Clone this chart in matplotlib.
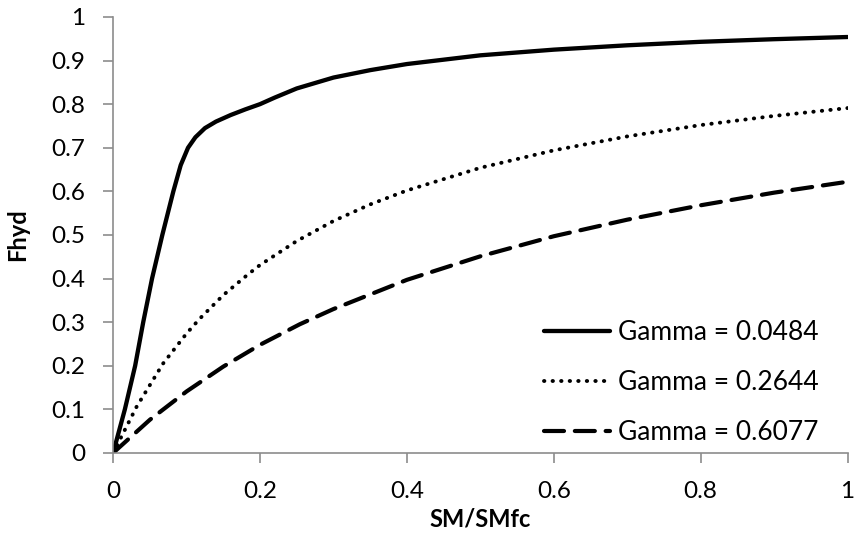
import matplotlib
matplotlib.use("Agg")
import matplotlib.pyplot as plt

# values
sm_solid = [0, 0.016, 0.03, 0.041, 0.053, 0.067, 0.082, 0.092, 0.102, 0.112, 0.125,
            0.14, 0.16, 0.18, 0.2, 0.22, 0.25, 0.3, 0.35, 0.4, 0.5, 0.6, 0.7, 0.8, 0.9, 1.0]
fhyd_solid = [0, 0.1, 0.2, 0.3, 0.4, 0.5, 0.6, 0.66, 0.7, 0.724, 0.745,
              0.76, 0.775, 0.788, 0.8, 0.815, 0.836, 0.861, 0.878, 0.892, 0.912, 0.925,
              0.935, 0.943, 0.949, 0.954]

sm_dot = [0, 0.032, 0.068, 0.1, 0.118, 0.15, 0.184, 0.2, 0.25, 0.3, 0.35, 0.4,
          0.5, 0.6, 0.7, 0.8, 0.9, 1.0]
fhyd_dot = [0, 0.106, 0.205, 0.274, 0.308, 0.362, 0.41, 0.431, 0.486, 0.532, 0.57, 0.602,
            0.654, 0.694, 0.726, 0.752, 0.773, 0.791]

sm_dash = [0, 0.05, 0.1, 0.15, 0.2, 0.254, 0.3, 0.4, 0.5, 0.6, 0.7, 0.8, 0.9, 1.0]
fhyd_dash = [0, 0.076, 0.141, 0.198, 0.248, 0.295, 0.33, 0.397, 0.451, 0.497,
             0.535, 0.568, 0.597, 0.622]

labels = ["Gamma = 0.0484", "Gamma = 0.2644", "Gamma = 0.6077"]
x_ticks = [0, 0.2, 0.4, 0.6, 0.8, 1]
y_ticks = [0, 0.1, 0.2, 0.3, 0.4, 0.5, 0.6, 0.7, 0.8, 0.9, 1]

plt.rcParams["font.family"] = ["Lato", "DejaVu Sans"]

fig = plt.figure(figsize=(8.57, 5.47), dpi=100)
ax = fig.add_axes([0.132, 0.172, 0.857, 0.797])

ax.plot(sm_solid, fhyd_solid, color="black", lw=3.1, solid_capstyle="round",
        solid_joinstyle="round", label=labels[0])
ax.plot(sm_dot, fhyd_dot, color="black", lw=2.8, linestyle=(0, (0.1, 2.1)),
        dash_capstyle="round", label=labels[1])
ax.plot(sm_dash, fhyd_dash, color="black", lw=3.0, linestyle=(0, (4.8, 2.6)),
        dash_capstyle="round", label=labels[2])

ax.set_xlim(0, 1)
ax.set_ylim(0, 1)
ax.set_xticks(x_ticks)
ax.set_yticks(y_ticks)
ax.set_xticklabels([f"{t:g}" for t in x_ticks])
ax.set_yticklabels([f"{t:g}" for t in y_ticks])

for side in ["top", "right"]:
    ax.spines[side].set_visible(False)
for side in ["left", "bottom"]:
    ax.spines[side].set_color("#8c8c8c")
    ax.spines[side].set_linewidth(1.2)
ax.tick_params(direction="out", length=7, width=1.2, color="#8c8c8c",
               labelsize=17.5)
ax.tick_params(axis="x", pad=13)
ax.tick_params(axis="y", pad=13)

ax.set_xlabel("SM/SMfc", fontsize=17, fontweight="bold", labelpad=4)
ax.set_ylabel("Fhyd", fontsize=17, fontweight="bold", labelpad=16)

ax.legend(loc="lower right", bbox_to_anchor=(0.972, 0.0), frameon=False,
          fontsize=19, handlelength=2.5, handletextpad=0.3, labelspacing=0.95,
          borderaxespad=-0.1)

fig.savefig("out.png", dpi=100)
